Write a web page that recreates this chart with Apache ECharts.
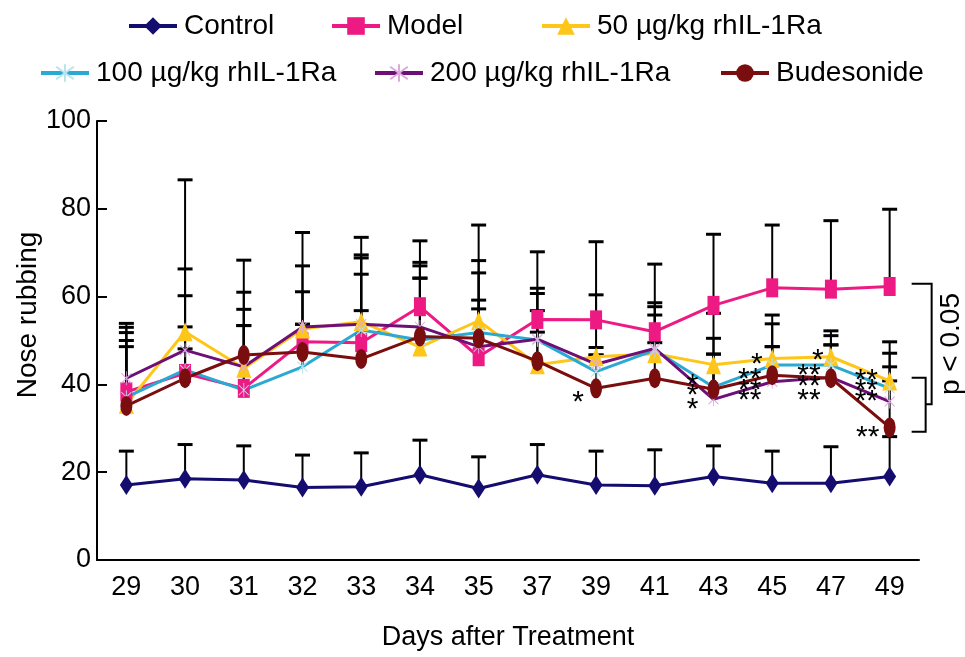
<!DOCTYPE html>
<html><head><meta charset="utf-8">
<script src="https://cdn.jsdelivr.net/npm/echarts@6/dist/echarts.min.js"></script>
<style>html,body{margin:0;padding:0;background:#fff}#c{width:965px;height:657px}</style>
</head><body><div id="c"></div><script>
const FONT = 'Liberation Sans, Arial, sans-serif';
const days = ['29','30','31','32','33','34','35','37','39','41','43','45','47','49'];
const yTicks = [0, 20, 40, 60, 80, 100];

const control      = [17.1, 18.5, 18.2, 16.5, 16.7, 19.4, 16.3, 19.4, 17.1, 16.9, 19.0, 17.5, 17.5, 19.0];
const controlUpper = [24.8, 26.3, 26.0, 23.9, 24.4, 27.3, 23.5, 26.3, 24.8, 25.1, 26.0, 24.8, 25.8, 28.1];
const model        = [38.3, 42.5, 39.1, 49.7, 49.5, 57.7, 46.3, 54.8, 54.7, 52.0, 58.0, 62.0, 61.7, 62.3];
const modelUpper   = [53.9, 66.3, 57.1, 61.1, 65.1, 72.7, 59.2, 70.2, 72.5, 67.4, 74.2, 76.3, 77.3, 79.9];
const r50          = [35.5, 52.0, 43.7, 52.6, 54.3, 48.5, 54.5, 44.5, 46.3, 47.0, 44.5, 45.9, 46.3, 40.8];
const r50Upper     = [50.0, 86.6, 61.0, 74.6, 73.5, 64.2, 76.3, 51.9, 48.4, 58.6, 56.2, 55.8, 52.2, 49.7];
const r100         = [37.1, 43.3, 38.7, 44.0, 52.4, 50.1, 51.8, 50.1, 42.9, 47.8, 39.4, 44.4, 44.4, 39.1];
const r100Upper    = [48.6, 53.1, 53.4, 53.7, 69.5, 67.0, 68.2, 61.9, 46.7, 57.7, 46.9, 53.8, 51.1, 47.1];
const r200         = [41.4, 47.8, 44.0, 53.1, 53.7, 53.1, 48.6, 50.3, 44.6, 48.2, 36.6, 40.6, 41.6, 36.1];
const r200Upper    = [51.8, 60.2, 68.3, 67.0, 68.8, 67.8, 57.2, 60.7, 60.4, 55.8, 50.5, 48.6, 49.0, 44.0];
const bud          = [35.1, 41.4, 46.7, 47.4, 45.8, 50.9, 50.5, 45.3, 39.1, 41.4, 38.9, 42.1, 41.4, 30.2];
const budUpper     = [53.0, 48.1, 53.4, 53.7, 56.8, 64.2, 65.4, 56.8, 46.7, 49.5, 46.9, 48.6, 49.0, 40.8];

const seriesNames = ['Control', 'Model', '50 µg/kg rhIL-1Ra', '100 µg/kg rhIL-1Ra', '200 µg/kg rhIL-1Ra', 'Budesonide'];

// significance marks: [day index, value, text, pixel dx]
const stars = [
  [8, 37.6, '*', -18],
  [10, 41.5, '*', -21], [10, 39.2, '*', -21], [10, 36.0, '*', -21],
  [11, 46.3, '*', -15.5], [11, 42.9, '**', -22.5], [11, 40.4, '**', -22.5], [11, 38.0, '**', -22.5],
  [12, 47.1, '*', -13], [12, 43.7, '**', -22], [12, 41.4, '**', -22], [12, 38.0, '**', -22],
  [13, 42.7, '**', -23.3], [13, 40.3, '**', -23.3], [13, 37.8, '**', -23.3], [13, 29.6, '**', -22]
];
const bracketUpper = [62.9, 35.5];
const bracketLower = [41.5, 29.2];
const pText = 'p < 0.05';

const starPath = 'path://M5,0L5,14M0,2L10,12M10,2L0,12';
const styles = [
  {color:'#140c6e', symbol:'diamond', size:[13,20]},
  {color:'#ee1a84', symbol:'rect', size:[12,19]},
  {color:'#ffc61a', symbol:'triangle', size:[15,19]},
  {color:'#2aaad2', symbol:starPath, size:[10,14], mcolor:'#b9e3ee'},
  {color:'#6e0f78', symbol:starPath, size:[10,14], mcolor:'#dcaadf'},
  {color:'#7a0e0e', symbol:'circle', size:[12,20]}
];
const means = [control, model, r50, r100, r200, bud];
const uppers = [controlUpper, modelUpper, r50Upper, r100Upper, r200Upper, budUpper];

const errData = [];
means.forEach((m, s) => m.forEach((v, i) => errData.push([i, v, uppers[s][i]])));

const lineSeries = means.map((m, s) => {
  const st = styles[s];
  const isStar = st.symbol.indexOf('path://') === 0;
  return {
    type: 'line', name: seriesNames[s], data: m, z: 3,
    symbol: st.symbol, symbolSize: st.size, symbolKeepAspect: false,
    showSymbol: true,
    lineStyle: {color: st.color, width: 3},
    itemStyle: isStar ? {color: 'rgba(0,0,0,0)', borderColor: st.mcolor, borderWidth: 1}
                      : {color: st.color, borderWidth: 0},
    emphasis: {disabled: true}
  };
});

const legendPos = [[122, 7], [325, 7], [535, 7], [34, 54], [368, 54], [714, 54]];
const legends = seriesNames.map((n, i) => ({
  data: [n], left: legendPos[i][0], top: legendPos[i][1],
  itemWidth: 48, itemHeight: 22, itemGap: 0, selectedMode: false,
  lineStyle: {width: 4},
  textStyle: {fontSize: 28, fontFamily: FONT, color: '#000', padding: [0, 0, 0, 2]}
}));

const option = {
  animation: false,
  backgroundColor: '#fff',
  legend: legends,
  grid: {left: 97, right: 46, top: 121, bottom: 97, containLabel: false},
  xAxis: {
    type: 'category', data: days, boundaryGap: true,
    name: 'Days after Treatment', nameLocation: 'middle', nameGap: 64,
    nameTextStyle: {fontSize: 27, fontFamily: FONT, color: '#000'},
    axisLine: {lineStyle: {color: '#000', width: 2}},
    axisTick: {inside: true, length: 16, interval: 0, lineStyle: {color: '#000', width: 2}},
    axisLabel: {fontSize: 27, fontFamily: FONT, color: '#000', margin: 14, interval: 0},
    splitLine: {show: false}
  },
  yAxis: {
    type: 'value', min: yTicks[0], max: yTicks[yTicks.length - 1], interval: yTicks[1] - yTicks[0],
    axisLine: {show: true, lineStyle: {color: '#000', width: 2}},
    axisTick: {show: true, inside: true, length: 10, lineStyle: {color: '#000', width: 2}},
    axisLabel: {fontSize: 27, fontFamily: FONT, color: '#000', margin: 6},
    splitLine: {show: false}
  },
  series: [{
    type: 'custom', z: 1, silent: true,
    encode: {x: 0, y: [1, 2]},
    data: errData,
    renderItem: function (params, api) {
      const p0 = api.coord([api.value(0), api.value(1)]);
      const p1 = api.coord([api.value(0), api.value(2)]);
      return {type: 'group', children: [
        {type: 'line', shape: {x1: p0[0], y1: p0[1], x2: p1[0], y2: p1[1]}, style: {stroke: '#000', lineWidth: 2}},
        {type: 'line', shape: {x1: p1[0] - 7.5, y1: p1[1], x2: p1[0] + 7.5, y2: p1[1]}, style: {stroke: '#000', lineWidth: 3}}
      ]};
    }
  }].concat(lineSeries)
};

const chart = echarts.init(document.getElementById('c'));
chart.setOption(option);

function px(ci, v) { return chart.convertToPixel({xAxisIndex: 0, yAxisIndex: 0}, [days[ci], v]); }
const g = [];
stars.forEach(s => {
  const p = px(s[0], s[1]);
  g.push({type: 'text', x: p[0] + s[3], y: p[1] + 8, z: 10,
    style: {text: s[2], fontSize: 30, fontFamily: FONT, fill: '#000', align: 'center', verticalAlign: 'middle'}});
});
const last = days.length - 1;
const u0 = px(last, bracketUpper[0]), u1 = px(last, bracketUpper[1]);
const l0 = px(last, bracketLower[0]), l1 = px(last, bracketLower[1]);
const bx = u0[0];
g.push({type: 'polyline', z: 10, shape: {points: [[bx + 22, u0[1]], [bx + 42, u0[1]], [bx + 42, u1[1]], [bx + 36, u1[1]]]},
  style: {stroke: '#000', lineWidth: 2, fill: null}});
g.push({type: 'polyline', z: 10, shape: {points: [[bx + 22, l0[1]], [bx + 36, l0[1]], [bx + 36, l1[1]], [bx + 22, l1[1]]]},
  style: {stroke: '#000', lineWidth: 2, fill: null}});
g.push({type: 'text', x: bx + 62, y: (u0[1] + u1[1]) / 2, rotation: Math.PI / 2, z: 10,
  style: {text: pText, fontSize: 28, fontFamily: FONT, fill: '#000', align: 'center', verticalAlign: 'middle'}});
g.push({type: 'text', x: 28, y: 315, rotation: Math.PI / 2, z: 10,
  style: {text: 'Nose rubbing', fontSize: 28, fontFamily: FONT, fill: '#000', align: 'center', verticalAlign: 'middle'}});
chart.setOption({graphic: g});
</script></body></html>
